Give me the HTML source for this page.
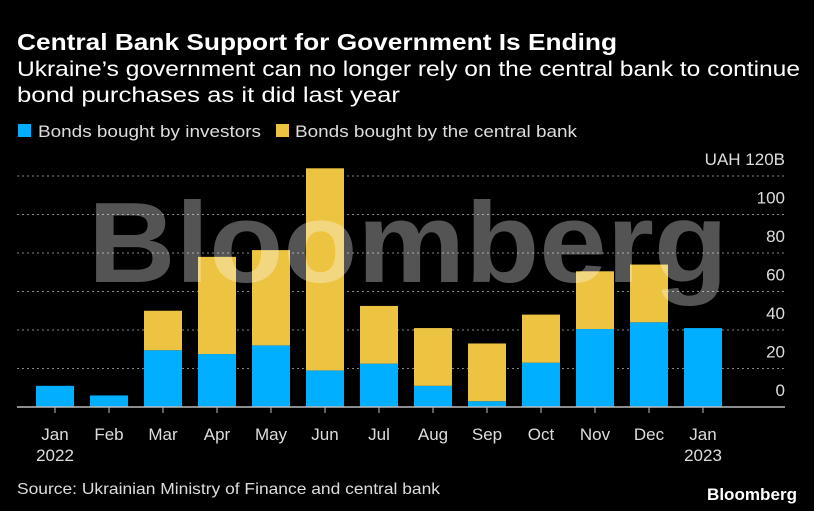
<!DOCTYPE html>
<html><head><meta charset="utf-8"><style>
html,body{margin:0;padding:0;background:#000;}
svg{display:block;font-family:"Liberation Sans",sans-serif;}
</style></head><body>
<svg width="814" height="511" viewBox="0 0 814 511">
<rect width="814" height="511" fill="#000"/>
<text x="17" y="50" fill="#fff" font-size="23" font-weight="bold" textLength="600" lengthAdjust="spacingAndGlyphs">Central Bank Support for Government Is Ending</text>
<text x="17" y="76" fill="#fff" font-size="21" textLength="783" lengthAdjust="spacingAndGlyphs">Ukraine’s government can no longer rely on the central bank to continue</text>
<text x="17" y="102" fill="#fff" font-size="21" textLength="383" lengthAdjust="spacingAndGlyphs">bond purchases as it did last year</text>
<g>
<rect x="18" y="124" width="13" height="13" fill="#00afff"/>
<text x="38" y="137" fill="#ddd" font-size="17" textLength="223" lengthAdjust="spacingAndGlyphs">Bonds bought by investors</text>
<rect x="276" y="124" width="13" height="13" fill="#edc442"/>
<text x="295" y="137" fill="#ddd" font-size="17" textLength="282" lengthAdjust="spacingAndGlyphs">Bonds bought by the central bank</text>
</g>
<g id="grid"></g>
<g id="bars"></g>
<text x="408" y="282" fill="#fff" fill-opacity="0.33" font-size="114" font-weight="bold" text-anchor="middle" textLength="640" lengthAdjust="spacingAndGlyphs">Bloomberg</text>
<g id="axis"></g>
<text x="17" y="494" fill="#ddd" font-size="16" textLength="423" lengthAdjust="spacingAndGlyphs">Source: Ukrainian Ministry of Finance and central bank</text>
<text x="797" y="500" fill="#fff" font-size="17" font-weight="bold" text-anchor="end" textLength="90" lengthAdjust="spacingAndGlyphs">Bloomberg</text>
</svg>
<script>
const months = ["Jan","Feb","Mar","Apr","May","Jun","Jul","Aug","Sep","Oct","Nov","Dec","Jan"];
const years = ["2022","","","","","","","","","","","","2023"];
const investors = [11,6,29.5,27.5,32,19,22.5,11,3,23,40.5,44,41];
const centralBank = [0,0,20.5,50.5,49.5,105,30,30,30,25,30,30,0];
const yTicks = [0,20,40,60,80,100,120];
const NS="http://www.w3.org/2000/svg";
const y0=407, pxPer=1.925;
function yS(v){return y0-v*pxPer;}
function xS(i){return 55+i*54;}
function mk(tag,attrs,parent){const e=document.createElementNS(NS,tag);for(const k in attrs)e.setAttribute(k,attrs[k]);parent.appendChild(e);return e;}
const grid=document.getElementById('grid'),bars=document.getElementById('bars'),axis=document.getElementById('axis');
yTicks.forEach(t=>{
  if(t>0){const l=mk('line',{x1:17,x2:785,y1:yS(t),y2:yS(t),stroke:'#888','stroke-width':1,'stroke-dasharray':'2,3'},grid);
  
  }
  const tx=mk('text',{x:785,y:yS(t)-11,fill:'#ddd','font-size':17,'text-anchor':'end'},axis);
  tx.textContent=t===120?'UAH 120B':String(t);
  
  
});
months.forEach((m,i)=>{
  const x=xS(i)-19;
  const b=mk('rect',{x:x,y:yS(investors[i]),width:38,height:investors[i]*pxPer,fill:'#00afff'},bars);
  
  
  if(centralBank[i]>0){
    const c=mk('rect',{x:x,y:yS(investors[i]+centralBank[i]),width:38,height:centralBank[i]*pxPer,fill:'#edc442'},bars);
    
    
  }
  const tk=mk('line',{x1:xS(i),x2:xS(i),y1:y0,y2:y0+6,stroke:'#bbb','stroke-width':1},axis);
  
  
  const t=mk('text',{x:xS(i),y:440,fill:'#ddd','font-size':17,'text-anchor':'middle'},axis);
  t.textContent=m;
  
  
  if(years[i]){const yt=mk('text',{x:xS(i),y:461,fill:'#ddd','font-size':17,'text-anchor':'middle'},axis);
  yt.textContent=years[i];
  
  }
});
const base=mk('line',{x1:17,x2:785,y1:y0,y2:y0,stroke:'#bbb','stroke-width':1.5},axis);


</script>
</body></html>
